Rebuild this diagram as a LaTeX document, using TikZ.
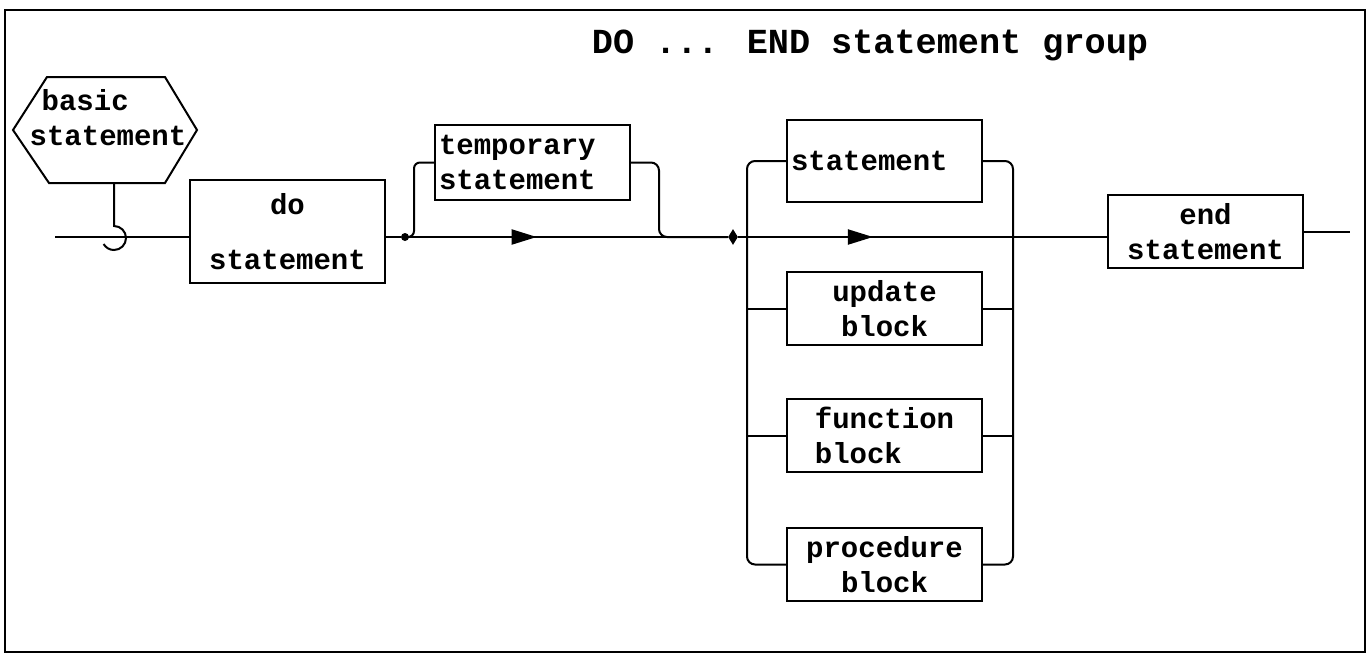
\documentclass[tikz,border=0pt]{standalone}
\usepackage{fontspec}
\setmainfont{Liberation Mono}
\usetikzlibrary{arrows.meta,positioning,shapes.geometric,decorations.markings}

\begin{document}
\begin{tikzpicture}[
    x=0.5pt,y=0.5pt,
    node distance=26pt,
    txt/.style={font=\fontsize{14.5}{17.5}\selectfont\bfseries},
    box/.style={txt,draw,line width=1pt,minimum width=97.5pt,minimum height=36.5pt,align=center,inner sep=2pt},
    lbox/.style={box,text width=93.5pt,align=left},
    wire/.style={line width=1pt,rounded corners=4pt},
    dot/.style={circle,fill,inner sep=0pt,minimum size=4pt},
    fwd/.style={postaction={decorate},decoration={markings,mark=at position #1 with {\arrow{Triangle[length=12.5pt,width=7.5pt]}}}}
  ]
    \useasboundingbox (0,0) rectangle (1370,-654);
    \draw[line width=1pt] (5,-10) rectangle (1365,-652);
    \node[font=\fontsize{17.6}{20}\selectfont\bfseries] (title) at (870,-45) {DO ... END statement group};
    % entry
    \node[txt,align=left] (basic) at (108,-118) {\hspace*{6pt}basic\\statement};
    \draw[line width=1pt] (13,-130) -- (47,-77) -- (165,-77) -- (197,-130) -- (165,-183) -- (49,-183) -- cycle;
    \coordinate (hb) at (114,-183);
    \coordinate (in) at (55,-237);
    \node[box,minimum height=51.5pt] (do) at (287.5,-231.5) {do\\[10pt]statement};
    \node[lbox,minimum height=37.5pt] (temp) at (532.5,-162.5) {temporary\\statement};
    \node[dot] (j1) at (405,-237) {};
    \node[diamond,fill,inner sep=0pt,minimum width=5pt,minimum height=8pt] (j2) at (733,-237) {};
    % statement group
    \node[lbox,minimum height=41pt] (stat) at (884.5,-161) {statement};
    \node[box,below=34pt of stat] (upd) {update\\block};
    \node[box,align=left,below=of upd] (fun) {function\\block};
    \node[box,below=27pt of fun] (proc) {procedure\\block};
    \node[box] (end) at (1205.5,-231.5) {end\\statement};
    \coordinate (out) at (1350,-230);
    \coordinate (lb) at (747,-360);
    \coordinate (rb) at (1013,-360);
    % connectors
    \draw[line width=1pt] (hb) -- ++(0,-43) arc[start angle=90,end angle=-150,radius=6pt];
    \draw[wire] (in) -- (do.west |- in);
    \draw[wire] (do.east |- j1) -- (j1);
    \draw[wire,rounded corners=3pt] (j1) -| ([xshift=-10pt]temp.west) -- (temp.west);
    \draw[wire] (temp.east) -| ([xshift=14pt]temp.east |- j1) -- (j2);
    \draw[wire,fwd=0.4] (j1) -- (j2);
    \draw[wire] (stat.west) -| (lb) |- (proc.west);
    \draw[wire] (stat.east) -| (rb) |- (proc.east);
    \draw[wire] (upd.west) -- (upd.west -| lb);
    \draw[wire] (fun.west) -- (fun.west -| lb);
    \draw[wire] (upd.east) -- (upd.east -| rb);
    \draw[wire] (fun.east) -- (fun.east -| rb);
    \draw[wire,fwd=0.365] (j2) -- (end.west |- j2);
    \draw[wire] (end.east) -- (end.east -| out);
\end{tikzpicture}
\end{document}
